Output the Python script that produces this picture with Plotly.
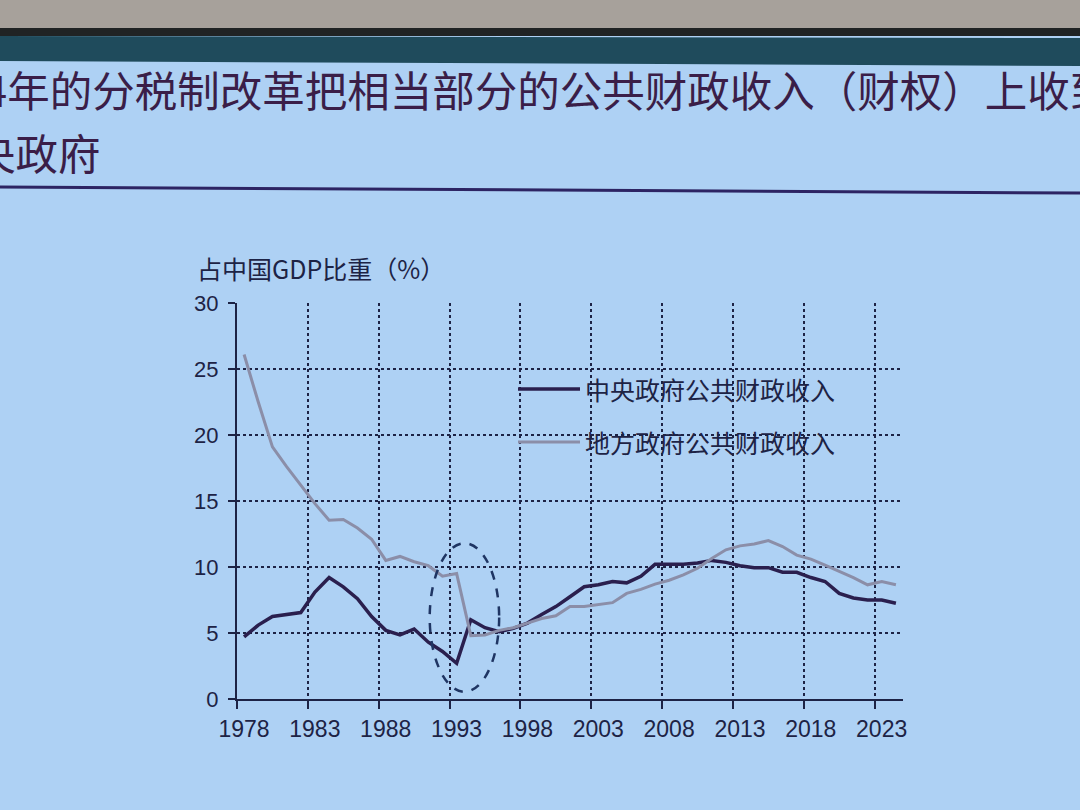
import plotly.graph_objects as go

years = list(range(1978, 2025))
central = [4.7, 5.6, 6.25, 6.4, 6.55, 8.1, 9.2, 8.5, 7.6, 6.25,
           5.2, 4.85, 5.3, 4.3, 3.6, 2.7, 6.0, 5.4, 5.1, 5.35,
           5.75, 6.4, 7.0, 7.75, 8.5, 8.65, 8.9, 8.8, 9.3, 10.2,
           10.2, 10.2, 10.3, 10.5, 10.35, 10.1, 9.95, 9.95, 9.6, 9.6,
           9.2, 8.9, 8.0, 7.65, 7.5, 7.5, 7.25]
local = [26.1, 22.5, 19.1, 17.6, 16.2, 14.8, 13.55, 13.6, 12.95, 12.1,
         10.5, 10.8, 10.4, 10.1, 9.3, 9.5, 4.8, 4.85, 5.2, 5.4,
         5.75, 6.1, 6.3, 7.0, 7.0, 7.15, 7.3, 8.0, 8.3, 8.7,
         9.0, 9.4, 9.9, 10.65, 11.3, 11.6, 11.75, 12.0, 11.55, 10.9,
         10.6, 10.15, 9.7, 9.2, 8.65, 8.9, 8.65]
tick_years = list(range(1978, 2024, 5))
names = ['中央政府公共财政收入', '地方政府公共财政收入']

# the photo cuts the slide title off at both sides
title1 = '94年的分税制改革把相当部分的公共财政收入（财权）上收到'
title2 = '央政府'
ytitle = '占中国GDP比重（%）'

# page is 1080x810, plot area in pixels
L, R, T, B = 237, 177, 303, 111
W, H = 1080 - L - R, 810 - T - B


def px(x):
    return (x - L) / W


def py(y):
    return (810 - B - y) / H


navy = '#1d2345'
cjk = 'Noto Sans CJK SC'
latin = 'Liberation Sans'
bg = '#aed1f4'
title_color = '#3a1e48'
colors = ['#2a1f4e', '#8b8ea8']
widths = [3.5, 3]

fig = go.Figure()
for name, vals, c, w in zip(names, [central, local], colors, widths):
    fig.add_trace(go.Scatter(x=years, y=vals, mode='lines', name=name,
                             line=dict(color=c, width=w)))

shapes = [
    # wall / screen edge at the top of the photo
    dict(type='rect', xref='paper', yref='paper', x0=px(0), x1=px(1080),
         y0=py(28), y1=py(0), fillcolor='#a7a19b', line_width=0, layer='below'),
    dict(type='rect', xref='paper', yref='paper', x0=px(0), x1=px(1080),
         y0=py(36), y1=py(28), fillcolor='#202324', line_width=0, layer='below'),
    dict(type='path', xref='paper', yref='paper', layer='below',
         path=f'M{px(0)},{py(36)} L{px(1080)},{py(38)} L{px(1080)},{py(66)} '
              f'L{px(0)},{py(61)} Z',
         fillcolor='#1f4b5c', line_width=0),
    # rule under the title
    dict(type='line', xref='paper', yref='paper', x0=px(0), x1=px(1080),
         y0=py(187), y1=py(193), line=dict(color='#2d2463', width=3)),
    # dashed ellipse round 1994
    dict(type='circle', xref='x', yref='y', x0=1991.1, x1=1996.0,
         y0=0.55, y1=11.8, line=dict(color='#1f3563', width=2.5, dash='dash')),
]

annotations = [
    dict(text=title1, xref='paper', yref='paper', x=px(-42), y=py(89),
         xanchor='left', yanchor='middle', showarrow=False,
         font=dict(family=cjk, size=42.5, color=title_color)),
    dict(text=title2, xref='paper', yref='paper', x=px(-29), y=py(151),
         xanchor='left', yanchor='middle', showarrow=False,
         font=dict(family=cjk, size=42.5, color=title_color)),
    dict(text=ytitle, xref='paper', yref='paper', x=px(195), y=py(268),
         xanchor='left', yanchor='middle', showarrow=False,
         font=dict(family=cjk, size=25, color=navy)),
]

# legend drawn by hand: long line samples as on the slide
for i, (name, c, w) in enumerate(zip(names, colors, widths)):
    ly = 389 + i * 53
    shapes.append(dict(type='line', xref='paper', yref='paper',
                       x0=px(518), x1=px(580), y0=py(ly), y1=py(ly),
                       line=dict(color=c, width=w)))
    annotations.append(dict(text=name, xref='paper', yref='paper',
                            x=px(583), y=py(ly), xanchor='left',
                            yanchor='middle', showarrow=False,
                            font=dict(family=cjk, size=25, color=navy)))

fig.update_layout(
    width=1080, height=810,
    margin=dict(l=L, r=R, t=T, b=B),
    paper_bgcolor=bg, plot_bgcolor=bg,
    shapes=shapes, annotations=annotations,
    showlegend=False,
    xaxis=dict(range=[1977.5, 2024.5], tickvals=[y - 0.5 for y in tick_years],
               ticktext=[str(y) for y in tick_years], ticklabelshift=7,
               showgrid=True, gridcolor=navy, griddash='dot', gridwidth=1.5,
               showline=True, linecolor=navy, linewidth=2,
               ticks='outside', ticklen=8, tickcolor=navy, tickwidth=2,
               zeroline=False,
               tickfont=dict(family=latin, size=23, color=navy)),
    yaxis=dict(range=[0, 30], dtick=5,
               showgrid=True, gridcolor=navy, griddash='dot', gridwidth=1.5,
               showline=True, linecolor=navy, linewidth=2,
               ticks='outside', ticklen=7, tickcolor=navy, tickwidth=2,
               ticklabelstandoff=5, zeroline=False,
               tickfont=dict(family=latin, size=22, color=navy)),
)

fig.write_html('out.html', config={'displayModeBar': False},
               post_script="document.body.style.margin='0px';")
